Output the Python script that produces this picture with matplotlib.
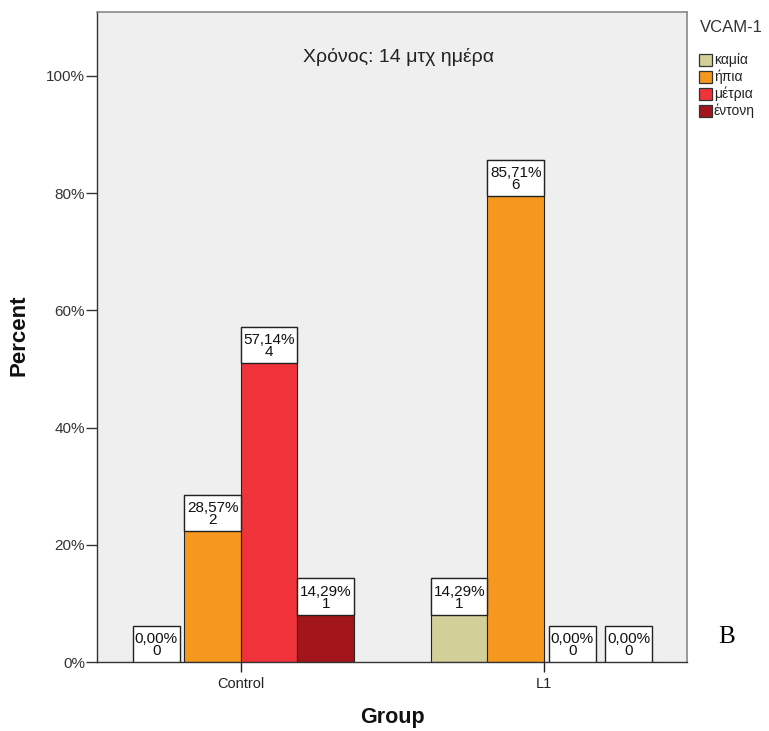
import matplotlib
matplotlib.use("Agg")
import matplotlib.pyplot as plt
from matplotlib.patches import Rectangle
import numpy as np

plt.rcParams['font.family'] = ['Liberation Sans', 'DejaVu Sans']

groups = ["Control", "L1"]
levels = ["καμία", "ήπια", "μέτρια", "έντονη"]
counts = {
    "Control": [0, 2, 4, 1],
    "L1": [1, 6, 0, 0],
}
colors = ["#D3CF99", "#F7981E", "#F0333B", "#A2161B"]
title = "Χρόνος: 14 μτχ ημέρα"
legend_title = "VCAM-1"
yticks = [0, 20, 40, 60, 80, 100]

W, H = 769, 731
fig = plt.figure(figsize=(W / 100, H / 100), dpi=100)
ax = fig.add_axes([97 / W, 69 / H, 590 / W, 650 / H])
ax.set_facecolor("#EFEFEF")

bar_w = 0.1865
zero_box_w = 0.155
box_h = 6.2
offsets = (np.arange(len(levels)) - 1.5) * bar_w

for gi, g in enumerate(groups):
    c = np.array(counts[g])
    pct = c / c.sum() * 100
    for li in range(len(levels)):
        x = gi + offsets[li]
        ax.bar(x, pct[li], width=bar_w, color=colors[li], edgecolor="#222222",
               linewidth=0.8, zorder=2)
        top = max(pct[li], box_h)
        bw = bar_w if c[li] > 0 else zero_box_w
        ax.add_patch(Rectangle((x - bw / 2, top - box_h), bw, box_h,
                               facecolor="white", edgecolor="#222222",
                               linewidth=1.0, zorder=3))
        lbl = f"{pct[li]:.2f}%".replace(".", ",") + f"\n{c[li]}"
        ax.text(x, top - box_h / 2 - 0.2, lbl, ha="center", va="center",
                fontsize=11, color="#111111", linespacing=0.82, zorder=4)

ax.set_xlim(-0.475, 1.472)
ax.set_ylim(0, 110.9)
ax.set_xticks(range(len(groups)))
ax.set_xticklabels(groups, fontsize=10.5, color="#222222")
ax.set_yticks(yticks)
ax.set_yticklabels([f"{t}%" for t in yticks], fontsize=11, color="#333333")
ax.tick_params(axis="x", direction="out", length=7.5, width=1, color="#222222", pad=3)
ax.tick_params(axis="y", direction="out", length=8, width=1, color="#333333", pad=0.5)

for s in ["left", "bottom"]:
    ax.spines[s].set_color("#333333")
    ax.spines[s].set_linewidth(1.0)
for s in ["top", "right"]:
    ax.spines[s].set_color("#888888")
    ax.spines[s].set_linewidth(1.2)

fig.text(19 / W, 1 - 335 / H, "Percent", fontsize=16, fontweight="bold",
         rotation=90, ha="center", va="center", color="#111111")
fig.text(392 / W, 1 - 718 / H, "Group", fontsize=15.5, fontweight="bold",
         ha="center", va="center", color="#111111")

ax.text(399 / W, 1 - 57 / H, title, transform=fig.transFigure, ha="center",
        va="center", fontsize=14, color="#222222")

# legend drawn at the right of the plot frame
fig.text(700 / W, 1 - 27 / H, legend_title, fontsize=12, ha="left",
         va="center", color="#333333")
for i, (lab, col) in enumerate(zip(levels, colors)):
    yc = 60 + 17 * i
    fig.patches.append(Rectangle((699 / W, 1 - (yc + 6) / H), 13 / W, 12 / H,
                                 transform=fig.transFigure, facecolor=col,
                                 edgecolor="#333333", linewidth=0.9))
    fig.text(714 / W, 1 - yc / H, lab, fontsize=10, ha="left", va="center",
             color="#222222")

fig.text(727 / W, 1 - 637 / H, "B", fontsize=18, family="Liberation Serif",
         ha="center", va="center", color="black")

fig.savefig("out.png", dpi=100)
